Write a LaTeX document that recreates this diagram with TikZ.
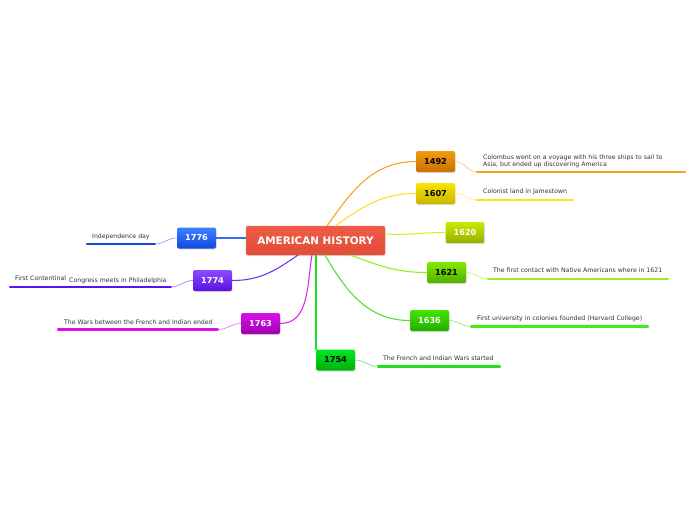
\documentclass[tikz,border=0pt]{standalone}
\usepackage{fontspec}
\setmainfont{DejaVu Sans}
\usetikzlibrary{shadows}
\definecolor{tx}{HTML}{333333}
\definecolor{cA}{HTML}{F7A020}
\definecolor{cB}{HTML}{FFE020}
\definecolor{cC}{HTML}{D0F020}
\definecolor{cD}{HTML}{90F020}
\definecolor{cE}{HTML}{50E020}
\definecolor{cF}{HTML}{20E020}
\definecolor{cG}{HTML}{3070F0}
\definecolor{cH}{HTML}{7030F0}
\definecolor{cI}{HTML}{E020F0}
\definecolor{uE}{HTML}{40EE10}
\definecolor{uG}{HTML}{1848D8}
\definecolor{uH}{HTML}{6010F0}
\definecolor{uI}{HTML}{E010E0}
\definecolor{ct}{HTML}{EE5C46}
\definecolor{cb}{HTML}{E24C38}
\definecolor{cd}{HTML}{F07A66}
\definecolor{aT}{HTML}{F39A12}\definecolor{aB}{HTML}{C97000}
\definecolor{bT}{HTML}{F8E500}\definecolor{bB}{HTML}{C9B400}
\definecolor{gT}{HTML}{CCEA00}\definecolor{gB}{HTML}{92B000}
\definecolor{dT}{HTML}{84EA00}\definecolor{dB}{HTML}{4FB000}
\definecolor{eT}{HTML}{44E400}\definecolor{eB}{HTML}{20AE00}
\definecolor{fT}{HTML}{00E81E}\definecolor{fB}{HTML}{00B010}
\definecolor{hT}{HTML}{3F80FF}\definecolor{hB}{HTML}{1048E0}
\definecolor{iT}{HTML}{8A4CFF}\definecolor{iB}{HTML}{5A10E0}
\definecolor{jT}{HTML}{D810E8}\definecolor{jB}{HTML}{A000B0}
\newcommand{\yrfont}{\fontsize{8.2}{9}\selectfont\bfseries}
\newcommand{\lbfont}{\fontsize{6.2}{7}\selectfont}
\tikzset{
  yearbox/.style={rounded corners=2pt, minimum width=39pt, minimum height=21pt, inner sep=1pt,
    font=\yrfont, drop shadow={opacity=0.25, shadow xshift=0.6pt, shadow yshift=-1.2pt}},
  lbl/.style={font=\lbfont, text=tx, inner sep=0pt, align=left},
  ul/.style={line width=2.4pt, line cap=round},
  br/.style={line width=1.05pt},
  sub/.style={line width=0.6pt},
}
\begin{document}
\begin{tikzpicture}[x=1pt,y=-1pt]
\useasboundingbox[fill=white] (0,0) rectangle (696,520);
% central
\node[rounded corners=2pt, minimum width=139pt, minimum height=29pt, top color=ct, bottom color=cb, draw=cd, line width=0.4pt, text=white, font=\fontsize{10.4}{12}\selectfont\bfseries, drop shadow={opacity=0.25, shadow xshift=0.6pt, shadow yshift=-1.2pt}] (c) at (315.5,240.5) {AMERICAN HISTORY};
% year nodes
\node[yearbox, top color=aT, bottom color=aB, text=black] (y1492) at (435.5,161.5) {1492};
\node[yearbox, top color=bT, bottom color=bB, text=black] (y1607) at (435.5,193.5) {1607};
\node[yearbox, top color=gT, bottom color=gB, text=white] (y1620) at (465,232.5) {1620};
\node[yearbox, top color=dT, bottom color=dB, text=black] (y1621) at (446.5,272.5) {1621};
\node[yearbox, top color=eT, bottom color=eB, text=white] (y1636) at (429.5,320.5) {1636};
\node[yearbox, top color=fT, bottom color=fB, text=black] (y1754) at (335.5,360) {1754};
\node[yearbox, top color=hT, bottom color=hB, text=white] (y1776) at (196.5,238) {1776};
\node[yearbox, top color=iT, bottom color=iB, text=white] (y1774) at (212.5,280.5) {1774};
\node[yearbox, top color=jT, bottom color=jB, text=white] (y1763) at (260.5,323.5) {1763};
% branch start points on central node
\coordinate (s1492) at (327,226);
\coordinate (s1607) at (335,226);
\coordinate (s1620) at (385,234);
\coordinate (s1621) at (350,255);
\coordinate (s1636) at (325,255);
\coordinate (s1754) at (316,255);
\coordinate (s1776) at (246,238);
\coordinate (s1774) at (298,255);
\coordinate (s1763) at (312,255);
\coordinate (e1754) at (316,350);
\draw[br, cA] (s1492) to[out=55,in=180] (y1492.west);
\draw[br, cB] (s1607) to[out=35,in=180] (y1607.west);
\draw[br, cC] (s1620) to[out=-3,in=180] (y1620.west);
\draw[br, cD] (s1621) to[out=-20,in=180] (y1621.west);
\draw[br, cE] (s1636) to[out=-60,in=180] (y1636.west);
\draw[br, cF] (s1754) -- (e1754);
\draw[br, cG] (s1776) -- (y1776.east);
\draw[br, cH] (s1774) to[out=-145,in=0] (y1774.east);
\draw[br, cI] (s1763) to[out=-100,in=0] (y1763.east);
% labels
\node[lbl, anchor=south west] (t1492) at (483,167.5) {Colombus went on a voyage with his three ships to sail to\\Asia, but ended up discovering America};
\node[lbl, anchor=base west] (t1607) at (483,193.5) {Colonist land in Jamestown};
\node[lbl, anchor=base west] (t1621) at (493,272.5) {The first contact with Native Americans where in 1621};
\node[lbl, anchor=base west] (t1636) at (477,320.5) {First university in colonies founded (Harvard College)};
\node[lbl, anchor=base west] (t1754) at (383,360.5) {The French and Indian Wars started};
\node[lbl, anchor=base west] (t1776) at (92,238.5) {Independence day};
\node[lbl, anchor=base west] (t1774a) at (15,280.5) {First Contentinal};
\node[lbl, anchor=base west] (t1774b) at (69,282.5) {Congress meets in Philadelphia};
\node[lbl, anchor=base west] (t1763) at (64,324) {The Wars between the French and Indian ended};
% underlines
\coordinate (u1492a) at (477,172); \coordinate (u1492b) at (685,172);
\coordinate (u1607a) at (477,200); \coordinate (u1607b) at (573,200);
\coordinate (u1621a) at (488,279); \coordinate (u1621b) at (668,279);
\coordinate (u1636a) at (471,326.5); \coordinate (u1636b) at (648,326.5);
\coordinate (u1754a) at (378,366.5); \coordinate (u1754b) at (500,366.5);
\coordinate (u1776a) at (155,244); \coordinate (u1776b) at (87,244);
\coordinate (u1774a) at (171,287); \coordinate (u1774b) at (10,287);
\coordinate (u1763a) at (218,329.5); \coordinate (u1763b) at (58,329.5);
\draw[ul, cA] (u1492a) -- (u1492b);
\draw[ul, cB] (u1607a) -- (u1607b);
\draw[ul, cD] (u1621a) -- (u1621b);
\draw[ul, uE] (u1636a) -- (u1636b);
\draw[ul, cF] (u1754a) -- (u1754b);
\draw[ul, uG] (u1776a) -- (u1776b);
\draw[ul, uH] (u1774a) -- (u1774b);
\draw[ul, uI] (u1763a) -- (u1763b);
% sub connectors
\draw[sub, cA!60] (y1492.east) to[out=0,in=180] (u1492a);
\draw[sub, cB!70] (y1607.east) to[out=0,in=180] (u1607a);
\draw[sub, cD!70] (y1621.east) to[out=0,in=180] (u1621a);
\draw[sub, cE!70] (y1636.east) to[out=0,in=180] (u1636a);
\draw[sub, cF!70] (y1754.east) to[out=0,in=180] (u1754a);
\draw[sub, cG!70] (y1776.west) to[out=180,in=0] (u1776a);
\draw[sub, cH!70] (y1774.west) to[out=180,in=0] (u1774a);
\draw[sub, cI!70] (y1763.west) to[out=180,in=0] (u1763a);
\end{tikzpicture}
\end{document}
